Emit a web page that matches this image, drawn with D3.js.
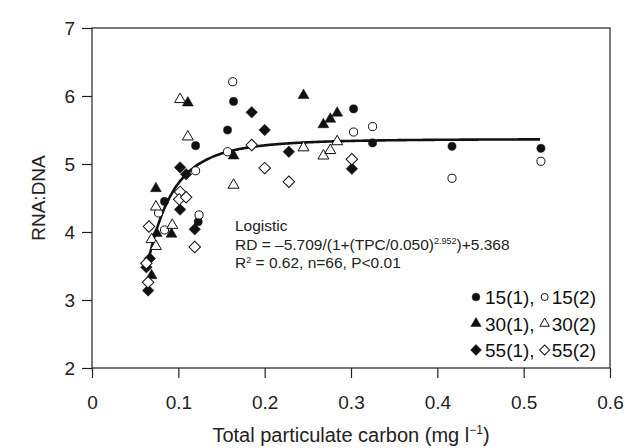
<!DOCTYPE html>
<html>
<head>
<meta charset="utf-8">
<script src="https://cdn.jsdelivr.net/npm/d3@7"></script>
<style>
  body { margin: 0; background: #fff; }
  svg { font-family: "Liberation Sans", Arial, sans-serif; }
</style>
</head>
<body>
<div id="chart"></div>
<script>
// data: [TPC (mg/l), RNA:DNA]
const s15a = [[0.164, 5.92], [0.157, 5.50], [0.120, 5.27], [0.084, 4.45], [0.123, 4.15],
              [0.303, 5.81], [0.325, 5.31], [0.417, 5.26], [0.520, 5.23]]
const s15b = [[0.163, 6.21], [0.157, 5.18], [0.120, 4.90], [0.124, 4.25], [0.084, 4.03],
              [0.077, 4.28], [0.303, 5.47], [0.325, 5.55], [0.417, 4.79], [0.520, 5.04]]
const s30a = [[0.111, 5.90], [0.074, 4.64], [0.075, 3.98], [0.092, 3.97], [0.069, 3.36],
              [0.164, 5.12], [0.245, 6.01], [0.268, 5.58], [0.276, 5.66], [0.284, 5.75]]
const s30b = [[0.102, 5.95], [0.111, 5.40], [0.074, 4.37], [0.069, 3.89], [0.074, 3.79],
              [0.093, 4.10], [0.164, 4.69], [0.245, 5.24], [0.268, 5.12], [0.276, 5.20], [0.284, 5.33]]
const s55a = [[0.102, 4.95], [0.109, 4.85], [0.102, 4.33], [0.119, 4.04], [0.067, 3.61],
              [0.063, 3.48], [0.065, 3.14], [0.185, 5.76], [0.200, 5.50], [0.228, 5.18], [0.301, 4.93]]
const s55b = [[0.066, 4.08], [0.102, 4.59], [0.101, 4.48], [0.109, 4.51], [0.119, 3.78],
              [0.063, 3.54], [0.065, 3.26], [0.185, 5.28], [0.200, 4.94], [0.228, 4.74], [0.301, 5.07]]

// logistic fit printed on the figure
const fitParams = { a: -5.709, c: 0.050, p: 2.952, d: 5.368 }
const fitRange = [0.063, 0.52]

const xTicks = [0, 0.1, 0.2, 0.3, 0.4, 0.5, 0.6]
const yTicks = [2, 3, 4, 5, 6, 7]
const legendRows = [
    { one: "15(1),", two: "15(2)", shape: "circle" },
    { one: "30(1),", two: "30(2)", shape: "triangle" },
    { one: "55(1),", two: "55(2)", shape: "diamond" },
]

const width = 625
const height = 448
const margin = { top: 28, right: 15, bottom: 80, left: 92 }

const svg = d3.select("#chart").append("svg")
    .attr("width", width)
    .attr("height", height)

const xScale = d3.scaleLinear().domain([0, 0.6]).range([margin.left, width - margin.right])
const yScale = d3.scaleLinear().domain([2, 7]).range([height - margin.bottom, margin.top])

// frame
svg.append("rect")
    .attr("x", xScale(0))
    .attr("y", yScale(7))
    .attr("width", xScale(0.6) - xScale(0))
    .attr("height", yScale(2) - yScale(7))
    .attr("fill", "none")
    .attr("stroke", "#222")
    .attr("stroke-width", 1.2)

// axes
const xAxis = svg.append("g")
    .attr("transform", `translate(0,${yScale(2)})`)
    .call(d3.axisBottom(xScale).tickValues(xTicks).tickSize(10).tickPadding(18)
        .tickFormat(d => d === 0 ? "0" : d3.format(".1f")(d)))
const yAxis = svg.append("g")
    .attr("transform", `translate(${xScale(0)},0)`)
    .call(d3.axisLeft(yScale).tickValues(yTicks).tickSize(10).tickPadding(7)
        .tickFormat(d3.format("d")))

for (const ax of [xAxis, yAxis]) {
    ax.select(".domain").remove()
    ax.selectAll("line").attr("stroke", "#222").attr("stroke-width", 1.2)
    ax.selectAll("text")
        .attr("fill", "#222")
        .style("font-size", "19px")
        .style("font-family", "'Liberation Sans', Arial, sans-serif")
}

// axis titles
const xTitle = svg.append("text")
    .attr("x", (xScale(0) + xScale(0.6)) / 2)
    .attr("y", 442)
    .attr("text-anchor", "middle")
    .attr("fill", "#222")
    .style("font-size", "20px")
xTitle.append("tspan").text("Total particulate carbon (mg l")
xTitle.append("tspan").attr("dy", -8).style("font-size", "12px").text("\u22121")
xTitle.append("tspan").attr("dy", 8).text(")")

svg.append("text")
    .attr("transform", `translate(45,${(yScale(2) + yScale(7)) / 2}) rotate(-90)`)
    .attr("text-anchor", "middle")
    .attr("fill", "#222")
    .style("font-size", "19px")
    .text("RNA:DNA")

// fitted curve
const fitLine = d3.range(fitRange[0], fitRange[1] + 0.0001, 0.002).map(t =>
    [t, fitParams.a / (1 + Math.pow(t / fitParams.c, fitParams.p)) + fitParams.d])
svg.append("path")
    .datum(fitLine)
    .attr("fill", "none")
    .attr("stroke", "#111")
    .attr("stroke-width", 2.6)
    .attr("d", d3.line().x(d => xScale(d[0])).y(d => yScale(d[1])).curve(d3.curveBasis))

// markers
const shapes = {
    circle: { type: d3.symbolCircle, size: 52, rot: 0 },
    triangle: { type: d3.symbolTriangle, size: 52, rot: 0 },
    diamond: { type: d3.symbolSquare, size: 66, rot: 45 },
}
const groups = [
    { data: s15a, shape: "circle", filled: true },
    { data: s15b, shape: "circle", filled: false },
    { data: s30a, shape: "triangle", filled: true },
    { data: s30b, shape: "triangle", filled: false },
    { data: s55a, shape: "diamond", filled: true },
    { data: s55b, shape: "diamond", filled: false },
]

const drawMarker = (sel, shape, filled, scale = 1) => sel
    .attr("d", d3.symbol().type(shapes[shape].type).size(shapes[shape].size * scale))
    .attr("fill", filled ? "#111" : "#fff")
    .attr("stroke", "#111")
    .attr("stroke-width", filled ? 0.5 : 1)

const points = svg.append("g")
groups.forEach(g => {
    points.selectAll(null)
        .data(g.data)
        .join("path")
        .attr("transform", d => `translate(${xScale(d[0])},${yScale(d[1])}) rotate(${shapes[g.shape].rot})`)
        .call(drawMarker, g.shape, g.filled)
})

// annotation
const note = svg.append("g").attr("fill", "#222").style("font-size", "15.5px")
note.append("text").attr("x", 235).attr("y", 231).text("Logistic")
const eq = note.append("text").attr("x", 235).attr("y", 249.5)
eq.append("tspan").text("RD = \u20135.709/(1+(TPC/0.050)")
eq.append("tspan").attr("dy", -5.5).style("font-size", "9px").text("2.952")
eq.append("tspan").attr("dy", 5.5).text(")+5.368")
const r2 = note.append("text").attr("x", 235).attr("y", 268)
r2.append("tspan").text("R")
r2.append("tspan").attr("dy", -5.5).style("font-size", "9px").text("2")
r2.append("tspan").attr("dy", 5.5).text(" = 0.62, n=66, P<0.01")

// legend
const legend = svg.append("g").style("font-size", "19px").attr("fill", "#111")
legendRows.forEach((row, i) => {
    const y = 297 + i * 26.5
    let x = 476
    legend.append("path")
        .attr("transform", `translate(${x},${y}) rotate(${shapes[row.shape].rot})`)
        .call(drawMarker, row.shape, true, 0.9)
    const t1 = legend.append("text").attr("x", x + 9).attr("y", y + 7).text(row.one)
    x = x + 9 + t1.node().getComputedTextLength() + 10
    legend.append("path")
        .attr("transform", `translate(${x},${y}) rotate(${shapes[row.shape].rot})`)
        .call(drawMarker, row.shape, false, 0.75)
    legend.append("text").attr("x", x + 7).attr("y", y + 7).text(row.two)
})
</script>
</body>
</html>
